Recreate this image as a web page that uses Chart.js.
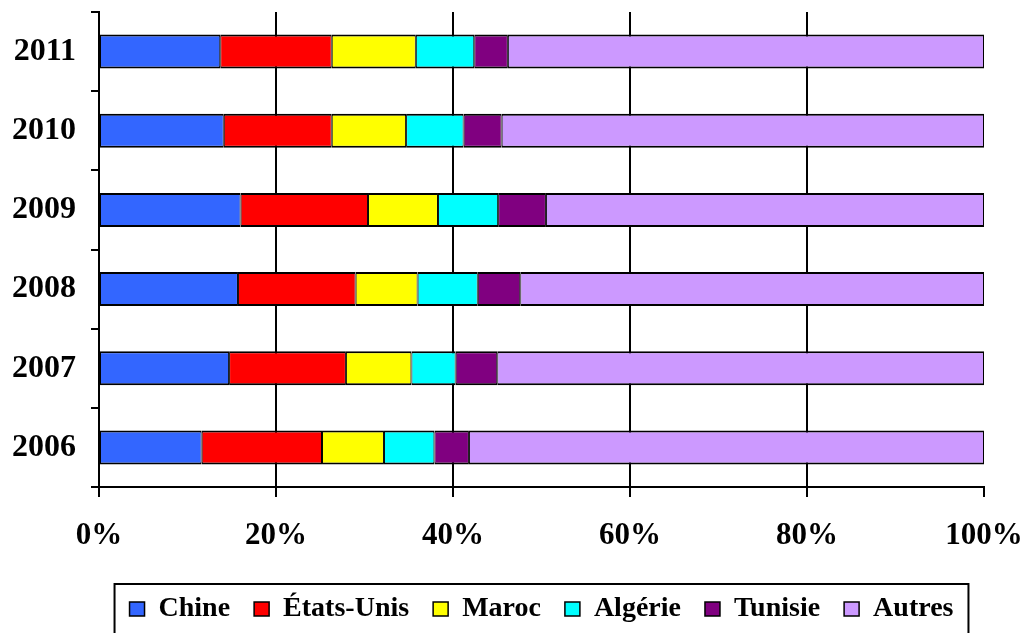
<!DOCTYPE html>
<html>
<head>
<meta charset="utf-8">
<script src="https://cdn.jsdelivr.net/npm/chart.js@4/dist/chart.umd.min.js"></script>
<style>
html,body{margin:0;padding:0;background:#fff;}
#wrap{width:1026px;height:633px;position:relative;}
</style>
</head>
<body>
<div id="wrap"><canvas id="c" width="1026" height="633"></canvas></div>
<script>
// Data (percent shares)
const years = ['2006', '2007', '2008', '2009', '2010', '2011'];
const seriesNames = ['Chine', 'États-Unis', 'Maroc', 'Algérie', 'Tunisie', 'Autres'];
const chine     = [11.6, 14.7, 15.7, 16.0, 14.1, 13.7];
const etatsUnis = [13.6, 13.2, 13.3, 14.4, 12.2, 12.6];
const maroc     = [7.0, 7.4, 7.0, 7.9, 8.4, 9.5];
const algerie   = [5.7, 5.0, 6.8, 6.8, 6.5, 6.6];
const tunisie   = [3.9, 4.7, 4.8, 5.4, 4.3, 3.8];
const autres    = [58.2, 55.0, 52.4, 49.5, 54.5, 53.8];
const tickValues = [0, 20, 40, 60, 80, 100];

const colors = ['#3366FF', '#FF0000', '#FFFF00', '#00FFFF', '#800080', '#CC99FF'];
const allSeries = [chine, etatsUnis, maroc, algerie, tunisie, autres];

Chart.defaults.font.family = "'Liberation Serif', 'Times New Roman', serif";
Chart.defaults.font.weight = 'bold';
Chart.defaults.color = '#000';

const legendFrame = {
  id: 'legendFrame',
  afterDraw(chart) {
    const lg = chart.legend;
    if (!lg || !lg.legendHitBoxes || !lg.legendHitBoxes.length) return;
    const hb = lg.legendHitBoxes;
    const first = hb[0], last = hb[hb.length - 1];
    const ctx = chart.ctx;
    const left = first.left - 15;
    const right = last.left + last.width + 15;
    const top = first.top - 11;
    ctx.save();
    ctx.strokeStyle = '#000';
    ctx.lineWidth = 2;
    ctx.strokeRect(left, top, right - left, chart.height - top + 10);
    ctx.restore();
  }
};

new Chart(document.getElementById('c'), {
  type: 'bar',
  data: {
    labels: years,
    datasets: seriesNames.map((name, i) => ({
      label: name,
      data: allSeries[i],
      backgroundColor: colors[i],
      borderColor: '#000',
      borderWidth: {top: 2, bottom: 2, left: 1, right: 1},
      borderSkipped: false,
      categoryPercentage: 1.0,
      barPercentage: 0.43
    }))
  },
  options: {
    indexAxis: 'y',
    responsive: false,
    animation: false,
    layout: { padding: { left: 0, right: 0, top: 12, bottom: 0 } },
    scales: {
      x: {
        stacked: true,
        min: 0,
        max: 100,
        afterBuildTicks(scale) { scale.ticks = tickValues.map(v => ({ value: v })); },
        afterFit(scale) { scale.paddingRight = 42; scale.paddingLeft = 0; scale.height = 84; },
        ticks: {
          font: { size: 31, weight: 'bold' },
          color: '#000',
          padding: 20,
          maxRotation: 0,
          callback: v => v + '%'
        },
        grid: {
          drawOnChartArea: true,
          color: ctx => (ctx.tick && (ctx.tick.value === 0 || ctx.tick.value === 100)) ? 'rgba(0,0,0,0)' : '#000',
          tickColor: '#000',
          lineWidth: 2,
          tickLength: 10
        },
        border: { display: true, color: '#000', width: 2 }
      },
      y: {
        stacked: true,
        reverse: true,
        afterFit(scale) { scale.width = 99; scale.paddingTop = 0; scale.paddingBottom = 0; },
        ticks: {
          font: { size: 32, weight: 'bold' },
          color: '#000',
          padding: 15
        },
        grid: {
          offset: true,
          drawOnChartArea: false,
          color: '#000',
          tickColor: '#000',
          lineWidth: 2,
          tickLength: 8
        },
        border: { display: true, color: '#000', width: 2 }
      }
    },
    plugins: {
      legend: {
        position: 'bottom',
        fullSize: false,
        labels: {
          font: { size: 28, weight: 'bold' },
          color: '#000',
          boxWidth: 15,
          boxHeight: 14,
          padding: 24
        }
      },
      tooltip: { enabled: false }
    }
  },
  plugins: [legendFrame]
});
</script>
</body>
</html>
